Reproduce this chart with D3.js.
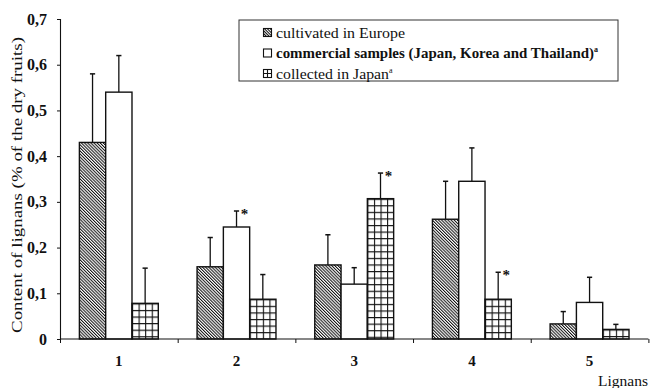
<!DOCTYPE html>
<html>
<head>
<meta charset="utf-8">
<script src="https://cdn.jsdelivr.net/npm/d3@7/dist/d3.min.js"></script>
<style>
  html, body { margin: 0; padding: 0; background: #fff; }
  svg { display: block; font-family: "Liberation Serif", "Times New Roman", serif; }
</style>
</head>
<body>
<svg id="chart" width="651" height="388"></svg>
<script>
// Lignan content per lignan number, three sample origins
const lignans = ["1", "2", "3", "4", "5"];
const seriesNames = [
  "cultivated in Europe",
  "commercial samples (Japan, Korea and Thailand)",
  "collected in Japan"
];
const seriesSup = ["", "a", "a"];
const europe = [0.43, 0.158, 0.162, 0.262, 0.033];
const europeUpper = [0.58, 0.222, 0.228, 0.345, 0.06];
const commercial = [0.54, 0.245, 0.12, 0.345, 0.08];
const commercialUpper = [0.62, 0.28, 0.156, 0.418, 0.135];
const japan = [0.078, 0.087, 0.307, 0.087, 0.021];
const japanUpper = [0.155, 0.141, 0.363, 0.146, 0.032];
// significant differences marked with an asterisk: [lignan index, series index]
const significant = [[1, 1], [2, 2], [3, 2]];
const yTicks = [0, 0.1, 0.2, 0.3, 0.4, 0.5, 0.6, 0.7];

const series = [
  { values: europe, upper: europeUpper, fill: "url(#hatch)" },
  { values: commercial, upper: commercialUpper, fill: "#fff" },
  { values: japan, upper: japanUpper, fill: "grid" }
];

const svg = d3.select("#chart");
const margin = { left: 60, right: 2.6, top: 19, bottom: 49 };
const W = 651, H = 388;
const ink = "#111";

const x = d3.scaleBand().domain(lignans).range([margin.left, W - margin.right]).padding(0);
const y = d3.scaleLinear().domain([0, 0.7]).range([H - margin.bottom, margin.top]);
const bw = x.bandwidth() * 0.2235;

const defs = svg.append("defs");
// diagonal hatching
function hatchPattern(id, step) {
  const p = defs.append("pattern")
    .attr("id", id)
    .attr("patternUnits", "userSpaceOnUse")
    .attr("width", step).attr("height", 10)
    .attr("patternTransform", "rotate(-45)");
  p.append("rect").attr("width", step).attr("height", 10).attr("fill", "#fff");
  p.append("line").attr("x1", 0.5).attr("x2", 0.5).attr("y1", 0).attr("y2", 10)
    .attr("stroke", ink).attr("stroke-width", 1.05);
}
hatchPattern("hatch", 2.2);
hatchPattern("hatchSmall", 2.0);

function gridPattern(id, x0, y0, cell) {
  const p = defs.append("pattern")
    .attr("id", id)
    .attr("patternUnits", "userSpaceOnUse")
    .attr("x", x0).attr("y", y0)
    .attr("width", cell).attr("height", cell);
  p.append("rect").attr("width", cell).attr("height", cell).attr("fill", "#fff");
  p.append("path").attr("d", `M0,0H${cell}M0,0V${cell}`)
    .attr("stroke", ink).attr("stroke-width", 2.2).attr("fill", "none");
  return `url(#${id})`;
}

// bars with upper error bars
const g = svg.append("g");
series.forEach((s, si) => {
  lignans.forEach((lab, i) => {
    const cx = x(lab) + x.bandwidth() / 2 + (si - 1) * bw;
    const x0 = cx - bw / 2;
    const y0 = y(s.values[i]);
    let fill = s.fill;
    if (fill === "grid") fill = gridPattern(`grid${i}`, x0, y0, bw / 4);
    g.append("line")
      .attr("x1", cx).attr("x2", cx)
      .attr("y1", y0).attr("y2", y(s.upper[i]))
      .attr("stroke", ink).attr("stroke-width", 1.3);
    g.append("line")
      .attr("x1", cx - 2.6).attr("x2", cx + 2.6)
      .attr("y1", y(s.upper[i])).attr("y2", y(s.upper[i]))
      .attr("stroke", ink).attr("stroke-width", 1.5);
    g.append("rect")
      .attr("x", x0).attr("y", y0)
      .attr("width", bw).attr("height", y(0) - y0)
      .attr("fill", fill)
      .attr("stroke", ink).attr("stroke-width", 1.4);
  });
});

// asterisks
significant.forEach(([i, si]) => {
  const s = series[si];
  const cx = x(lignans[i]) + x.bandwidth() / 2 + (si - 1) * bw;
  svg.append("text")
    .attr("x", cx + 8).attr("y", y(s.upper[i]) + 8)
    .attr("text-anchor", "middle")
    .attr("font-size", 15).attr("font-weight", "bold")
    .attr("fill", ink)
    .text("*");
});

// y axis
const yAxis = svg.append("g")
  .attr("transform", `translate(${margin.left},0)`)
  .call(d3.axisLeft(y).tickValues(yTicks).tickSize(3).tickPadding(10)
    .tickFormat(d => d === 0 ? "0" : d3.format(".1f")(d).replace(".", ",")));
yAxis.select(".domain").attr("stroke", ink).attr("stroke-width", 1.1);
yAxis.selectAll(".tick line").attr("stroke", ink);
yAxis.selectAll("text").attr("font-size", 16).attr("font-weight", "bold")
  .attr("font-family", "Liberation Serif").attr("fill", ink);

// x axis: boundary ticks
const xb = d3.scaleLinear().domain([0, lignans.length]).range(x.range());
const xAxisTicks = svg.append("g")
  .attr("transform", `translate(0,${y(0)})`)
  .call(d3.axisBottom(xb).ticks(lignans.length).tickSize(4).tickFormat(""));
xAxisTicks.select(".domain").attr("stroke", ink).attr("stroke-width", 1.1)
  .attr("d", `M${xb.range()[0]},0H${xb.range()[1]}`);
xAxisTicks.selectAll(".tick line").attr("stroke", ink);

// x axis: category labels
const xAxisLabels = svg.append("g")
  .attr("transform", `translate(0,${y(0)})`)
  .call(d3.axisBottom(x).tickSize(0).tickPadding(16));
xAxisLabels.select(".domain").remove();
xAxisLabels.selectAll("text").attr("font-size", 15).attr("font-weight", "bold")
  .attr("font-family", "Liberation Serif").attr("fill", ink);

// axis titles
svg.append("text")
  .attr("transform", `translate(21.5,${(margin.top + y(0)) / 2 + 6}) rotate(-90)`)
  .attr("text-anchor", "middle")
  .attr("font-size", 14.5)
  .attr("textLength", 296).attr("lengthAdjust", "spacingAndGlyphs")
  .attr("fill", ink)
  .text("Content of lignans (% of the dry fruits)");
svg.append("text")
  .attr("x", 648).attr("y", 386)
  .attr("text-anchor", "end")
  .attr("font-size", 15.5)
  .attr("fill", ink)
  .text("Lignans");

// legend
const legendWidths = [129, 318, 113];
const legendWeights = ["normal", "bold", "normal"];
const lg = svg.append("g").attr("transform", "translate(239,20)");
lg.append("rect").attr("width", 379).attr("height", 61)
  .attr("fill", "#fff").attr("stroke", "#333").attr("stroke-width", 1);
seriesNames.forEach((name, k) => {
  const row = lg.append("g").attr("transform", `translate(24,${8 + k * 20.5})`);
  row.append("rect").attr("x", 0.5).attr("y", 0.5).attr("width", 8).attr("height", 8)
    .attr("fill", k === 0 ? "url(#hatchSmall)" : "#fff")
    .attr("stroke", ink).attr("stroke-width", 1.1);
  if (k === 2) {
    row.append("path").attr("d", "M4.5,0.5V8.5M0.5,4.5H8.5").attr("stroke", ink).attr("stroke-width", 1.1);
  }
  const t = row.append("text").attr("x", 13).attr("y", 9.5)
    .attr("font-size", 15).attr("font-weight", legendWeights[k]).attr("fill", ink);
  t.append("tspan")
    .attr("textLength", legendWidths[k]).attr("lengthAdjust", "spacingAndGlyphs")
    .text(name);
  if (seriesSup[k]) {
    t.append("tspan").attr("font-size", 8).attr("dy", -6).text(seriesSup[k]);
  }
});
</script>
</body>
</html>
